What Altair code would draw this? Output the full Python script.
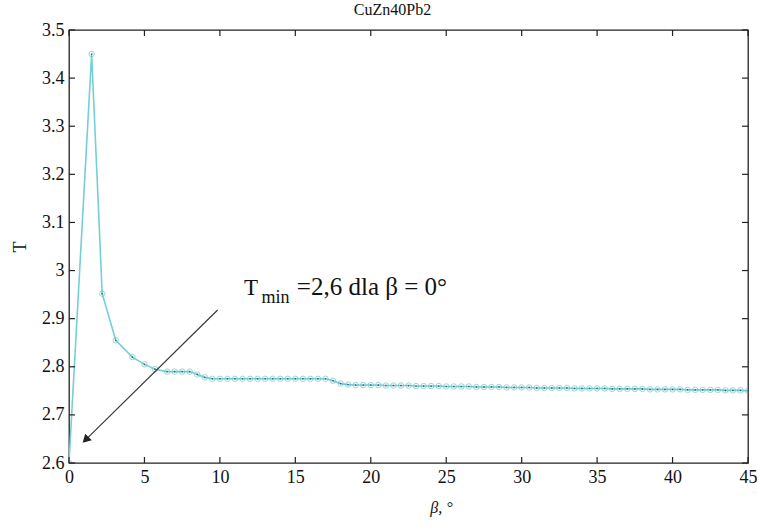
import altair as alt
import pandas as pd

# ---- data ----
beta = [0, 1.5, 2.2, 3.1, 4.2, 5.0, 5.7, 6.5, 7.0, 7.5, 8.0, 8.5, 9.0, 9.5,
        10.0, 10.5, 11.0, 11.5, 12.0, 12.5, 13.0, 13.5, 14.0, 14.5, 15.0, 15.5,
        16.0, 16.5, 17.0, 17.5, 18.0, 18.5, 19.0, 19.5, 20.0, 20.5, 21.0, 21.5,
        22.0, 22.5, 23.0, 23.5, 24.0, 24.5, 25.0, 25.5, 26.0, 26.5, 27.0, 27.5,
        28.0, 28.5, 29.0, 29.5, 30.0, 30.5, 31.0, 31.5, 32.0, 32.5, 33.0, 33.5,
        34.0, 34.5, 35.0, 35.5, 36.0, 36.5, 37.0, 37.5, 38.0, 38.5, 39.0, 39.5,
        40.0, 40.5, 41.0, 41.5, 42.0, 42.5, 43.0, 43.5, 44.0, 44.5, 45.0]
T = [2.600, 3.450, 2.952, 2.855, 2.820, 2.805, 2.795, 2.790, 2.790, 2.790,
     2.790, 2.784, 2.778, 2.775, 2.775, 2.775, 2.775, 2.775, 2.775, 2.775,
     2.775, 2.775, 2.775, 2.775, 2.775, 2.775, 2.775, 2.775, 2.775, 2.771,
     2.765, 2.763, 2.762, 2.762, 2.762, 2.762, 2.761, 2.761, 2.761, 2.761,
     2.760, 2.760, 2.760, 2.760, 2.759, 2.759, 2.759, 2.759, 2.758, 2.758,
     2.758, 2.758, 2.757, 2.757, 2.757, 2.757, 2.756, 2.756, 2.756, 2.756,
     2.756, 2.755, 2.755, 2.755, 2.755, 2.755, 2.754, 2.754, 2.754, 2.754,
     2.754, 2.753, 2.753, 2.753, 2.753, 2.753, 2.752, 2.752, 2.752, 2.752,
     2.752, 2.751, 2.751, 2.751, 2.750]

x_ticks = [0, 5, 10, 15, 20, 25, 30, 35, 40, 45]
y_ticks = [2.6, 2.7, 2.8, 2.9, 3.0, 3.1, 3.2, 3.3, 3.4, 3.5]

title_text = "CuZn40Pb2"
x_title = "β, °"
y_title = "T"

# annotation (arrow from text towards the minimum)
arrow_x = [9.85, 1.1]
arrow_y = [2.918, 2.648]
ann_parts = [
    {"x": 11.6, "y": 2.949, "t": "T", "size": 23},
    {"x": 12.75, "y": 2.933, "t": "min", "size": 18},
    {"x": 15.1, "y": 2.949, "t": "=2,6 dla  β = 0°", "size": 25},
]

FONT = "Liberation Serif"
W, H = 679, 433

df = pd.DataFrame({"beta": beta, "T": T})
xs = alt.Scale(domain=[0, 45], nice=False, zero=False)
ys = alt.Scale(domain=[2.6, 3.5], nice=False, zero=False)

axis_common = dict(ticks=False, domain=False, grid=False, labelFlush=False,
                   labelPadding=5, labelFont=FONT, labelFontSize=18,
                   labelColor="#111", titleFont=FONT, titleColor="#111",
                   titleFontWeight="normal")

base = alt.Chart(df)
line = base.mark_line(color="#74d0d6", strokeWidth=1.6, clip=True).encode(
    x=alt.X("beta:Q", scale=xs,
            axis=alt.Axis(values=x_ticks, title=x_title, titleFontSize=16,
                          titleFontStyle="italic", titleX=372, titleY=36,
                          **axis_common)),
    y=alt.Y("T:Q", scale=ys,
            axis=alt.Axis(values=y_ticks, title=y_title, titleFontSize=18,
                          titlePadding=12,
                          labelExpr="datum.value == 3 ? '3' : format(datum.value, '.1f')",
                          **axis_common)),
)
pts = base.mark_point(shape="circle", filled=False, size=30, color="#6cc6cc",
                      strokeWidth=1, clip=True).encode(x=alt.X("beta:Q", scale=xs),
                                                     y=alt.Y("T:Q", scale=ys))
dots = base.mark_point(shape="circle", filled=True, size=3, color="#2a4a55",
                       opacity=0.8, clip=True).encode(x=alt.X("beta:Q", scale=xs),
                                                    y=alt.Y("T:Q", scale=ys))

# inward ticks (MATLAB style)
xt = alt.Chart(pd.DataFrame({"v": x_ticks}))
yt = alt.Chart(pd.DataFrame({"v": y_ticks}))
tick_style = dict(color="#222", strokeWidth=1.2)
xb = xt.mark_rule(**tick_style).encode(x=alt.X("v:Q", scale=xs), y=alt.value(H), y2=alt.value(H - 6))
xtp = xt.mark_rule(**tick_style).encode(x=alt.X("v:Q", scale=xs), y=alt.value(0), y2=alt.value(6))
yl = yt.mark_rule(**tick_style).encode(y=alt.Y("v:Q", scale=ys), x=alt.value(0), x2=alt.value(6))
yr = yt.mark_rule(**tick_style).encode(y=alt.Y("v:Q", scale=ys), x=alt.value(W), x2=alt.value(W - 6))

# arrow
adf = pd.DataFrame({"x": arrow_x, "y": arrow_y})
arrow = alt.Chart(adf).mark_line(color="#333", strokeWidth=1.1).encode(
    x=alt.X("x:Q", scale=xs), y=alt.Y("y:Q", scale=ys))
head = alt.Chart(adf.iloc[[1]]).mark_point(shape="triangle-up", filled=True, size=90,
                                           color="#222", angle=225, opacity=1).encode(
    x=alt.X("x:Q", scale=xs), y=alt.Y("y:Q", scale=ys))

texts = []
for p in ann_parts:
    texts.append(
        alt.Chart(pd.DataFrame([p])).mark_text(font=FONT, fontSize=p["size"], align="left",
                                               baseline="alphabetic", color="#111").encode(
            x=alt.X("x:Q", scale=xs), y=alt.Y("y:Q", scale=ys), text="t:N"))

chart = alt.layer(line, pts, dots, xb, xtp, yl, yr, arrow, head, *texts).properties(
    width=W, height=H,
    background="white",
    title=alt.TitleParams(title_text, font=FONT, fontSize=16, fontWeight="normal",
                          color="#111", offset=3, dx=-16),
    autosize=alt.AutoSizeParams(type="none"),
    padding={"left": 69, "top": 30, "right": 9, "bottom": 63},
).configure_view(stroke="#222", strokeWidth=1.3)

chart.save("out.html", embed_options={"renderer": "svg", "actions": False})
